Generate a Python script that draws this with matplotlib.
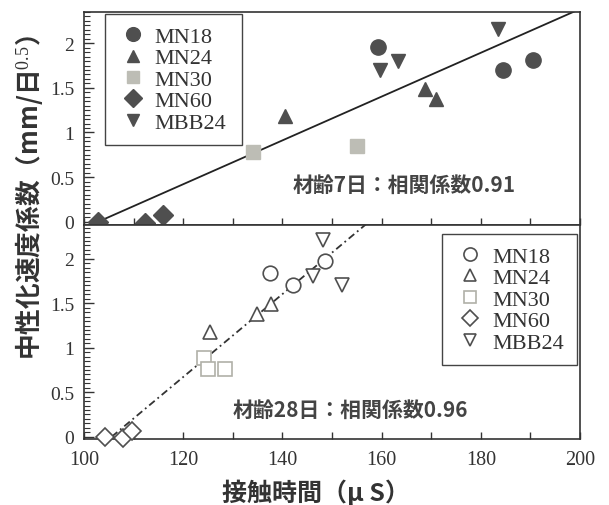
import matplotlib
matplotlib.use("Agg")
import matplotlib.pyplot as plt
import numpy as np
from matplotlib.ticker import MultipleLocator

plt.rcParams["font.family"] = ["Liberation Serif", "Noto Sans CJK JP"]
plt.rcParams["mathtext.fontset"] = "custom"
plt.rcParams["mathtext.rm"] = "Liberation Serif"
plt.rcParams["mathtext.it"] = "Liberation Serif:italic"

JP = ["Noto Sans CJK JP", "DejaVu Sans"]

series = ["MN18", "MN24", "MN30", "MN60", "MBB24"]

# --- 材齢7日 (contact time in μs, carbonation rate coefficient) ---
d7_x = {
    "MN18": [159.2, 184.5, 190.6],
    "MN24": [140.5, 168.8, 171.0],
    "MN30": [134.1, 155.0],
    "MN60": [102.9, 112.3, 116.0],
    "MBB24": [183.5, 159.7, 163.4],
}
d7_y = {
    "MN18": [1.96, 1.70, 1.81],
    "MN24": [1.19, 1.49, 1.38],
    "MN30": [0.78, 0.85],
    "MN60": [0.00, -0.02, 0.07],
    "MBB24": [2.16, 1.70, 1.80],
}
fit7_slope, fit7_icpt = 0.02455, -2.526
fit7_xrange = [102.9, 200.0]
label7 = "材齢7日：相関係数0.91"

# --- 材齢28日 ---
d28_x = {
    "MN18": [137.4, 142.2, 148.6],
    "MN24": [125.4, 134.8, 137.8],
    "MN30": [124.1, 125.1, 128.4],
    "MN60": [104.2, 107.9, 109.6],
    "MBB24": [148.2, 146.2, 152.0],
}
d28_y = {
    "MN18": [1.84, 1.71, 1.97],
    "MN24": [1.18, 1.38, 1.49],
    "MN30": [0.89, 0.76, 0.76],
    "MN60": [0.00, -0.02, 0.06],
    "MBB24": [2.21, 1.81, 1.70],
}
fit28_slope, fit28_icpt = 0.0466, -4.921
fit28_xrange = [105.6, 160.0]
label28 = "材齢28日：相関係数0.96"

x_ticks = [100, 120, 140, 160, 180, 200]
y_ticks = [0, 0.5, 1, 1.5, 2]

markers = {"MN18": "o", "MN24": "^", "MN30": "s", "MN60": "D", "MBB24": "v"}
msize = {"MN18": 11, "MN24": 10, "MN30": 10, "MN60": 10, "MBB24": 10}
dark = "#4f4f4f"
light = "#bdbdb5"
colors = {"MN18": dark, "MN24": dark, "MN30": light, "MN60": dark, "MBB24": dark}

fig = plt.figure(figsize=(6.09, 5.06), dpi=100)
ax_top = fig.add_axes([84 / 609, 1 - 226 / 506, 496 / 609, 213 / 506])
ax_bot = fig.add_axes([84 / 609, 1 - 440 / 506, 496 / 609, 214 / 506])

spine_c = "#333333"
for ax in (ax_top, ax_bot):
    ax.set_xlim(100, 200)
    for s in ax.spines.values():
        s.set_linewidth(1.2)
        s.set_color(spine_c)
    ax.xaxis.set_major_locator(MultipleLocator(20))
    ax.xaxis.set_minor_locator(MultipleLocator(10))
    ax.yaxis.set_major_locator(MultipleLocator(0.5))
    ax.yaxis.set_minor_locator(MultipleLocator(0.05))
    ax.tick_params(axis="both", which="both", direction="in", color=spine_c,
                   top=False, right=False)
    ax.tick_params(axis="x", which="both", length=5, width=1.0)
    ax.tick_params(axis="y", which="major", length=7, width=1.0, pad=7,
                   labelsize=14, labelcolor="#333333")
    ax.tick_params(axis="y", which="minor", length=4, width=0.8)
    ax.set_yticks(y_ticks)
    ax.set_yticklabels(["0", "0.5", "1", "1.5", "2"])

ax_top.set_ylim(-0.037, 2.35)
ax_bot.set_ylim(-0.026, 2.38)
ax_top.tick_params(axis="x", labelbottom=False)
ax_bot.set_xticks(x_ticks)
ax_bot.tick_params(axis="x", which="major", labelsize=14.5, pad=8, labelcolor="#333333")

# 7-day panel: filled symbols
for name in series:
    ax_top.plot(d7_x[name], d7_y[name], linestyle="none", marker=markers[name],
                markersize=msize[name], color=colors[name],
                markeredgecolor=colors[name], label=name, zorder=3, clip_on=False)
xs = np.array(fit7_xrange)
ax_top.plot(xs, fit7_slope * xs + fit7_icpt, color="#222222", lw=1.3, zorder=2)

# 28-day panel: open symbols
for name in series:
    ax_bot.plot(d28_x[name], d28_y[name], linestyle="none", marker=markers[name],
                markersize=msize[name] - 0.5, markerfacecolor="white",
                markeredgecolor=colors[name] if name != "MN30" else "#b0b0a8",
                markeredgewidth=1.2, label=name, zorder=3, clip_on=False)
xs = np.array(fit28_xrange)
ax_bot.plot(xs, fit28_slope * xs + fit28_icpt, color="#333333", lw=1.3,
            linestyle=(0, (4, 2, 1, 2)), zorder=2)

leg_kw = dict(fontsize=16, frameon=True, fancybox=False, handlelength=1.43,
              handletextpad=0.27, labelspacing=0.04, borderpad=0.55,
              borderaxespad=0, edgecolor="#444444", framealpha=1,
              markerscale=0.9, mode="expand", loc="upper left")
lt = ax_top.legend(bbox_to_anchor=(0.042, 0.0, 0.276, 0.99), **leg_kw)
lb = ax_bot.legend(bbox_to_anchor=(0.722, 0.0, 0.272, 0.958), **leg_kw)
for lg in (lt, lb):
    lg.get_frame().set_linewidth(1.0)
    for t in lg.get_texts():
        t.set_color("#333333")

ax_top.text(164.5, 0.42, label7, family=JP, fontsize=15, weight="bold",
            color="#444444", ha="center", va="center")
ax_bot.text(153.8, 0.31, label28, family=JP, fontsize=15, weight="bold",
            color="#444444", ha="center", va="center")

fig.text(316 / 609, 1 - 493 / 506, "接触時間（μ S）", family=JP, fontsize=18,
         weight="bold", color="#333333", ha="center", va="center")
fig.text(29 / 609, 1 - 198 / 506, "中性化速度係数（mm/日$^{0.5}$）", family=JP,
         fontsize=18.5, weight="bold", color="#333333", ha="center", va="center",
         rotation=90)

fig.savefig("out.png", dpi=100)
